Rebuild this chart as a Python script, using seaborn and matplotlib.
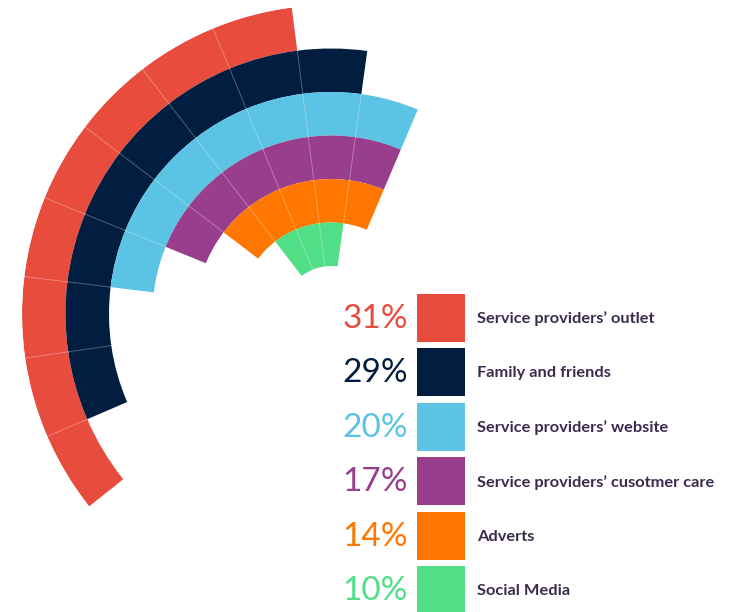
import numpy as np
import seaborn as sns
import matplotlib.pyplot as plt

# sources of information, outermost ring first
categories = ["Service providers\u2019 outlet", "Family and friends",
              "Service providers\u2019 website", "Service providers\u2019 cusotmer care",
              "Adverts", "Social Media"]
shares = [31, 29, 20, 17, 14, 10]
# each ring is built from equal blocks: how many, and at which block it starts
n_blocks = [8, 8, 7, 6, 5, 3]
first_block = [2, 1, 0, 0, 0, 1]
colors = ["#E84C3D", "#011E40", "#5BC3E3", "#983E8D", "#FF7700", "#50DE86"]

sns.set_theme(style="white")
plt.rcParams['font.family'] = ['Lato', 'DejaVu Sans']
palette = sns.color_palette(colors)

W, H = 736, 612
cx, cy = 331, 314          # ring centre in pixels
R = 309                    # outer radius in pixels
ring_w = 43.5
base_deg, step_deg = 67.0, 15.15

fig = plt.figure(figsize=(W / 100, H / 100), dpi=100)
ax = fig.add_axes([(cx - R) / W, (H - cy - R) / H, 2 * R / W, 2 * R / H], projection='polar')
ax.set_ylim(0, R)
ax.set_axis_off()

for i, (nb, fb) in enumerate(zip(n_blocks, first_block)):
    outer = R - i * ring_w
    inner = outer - ring_w
    start = base_deg + fb * step_deg
    ax.bar(np.radians(start), ring_w, width=np.radians(nb * step_deg), bottom=inner,
           align='edge', color=palette[i], linewidth=0)
    # thin separators between blocks
    for k in range(1, nb):
        th = np.radians(start + k * step_deg)
        ax.plot([th, th], [inner, outer], color='white', alpha=0.3, lw=0.7)

# legend drawn in pixel coordinates
lax = fig.add_axes([0, 0, 1, 1])
lax.set_xlim(0, W)
lax.set_ylim(H, 0)
lax.patch.set_alpha(0)
lax.set_axis_off()

rows = 318 + 54.4 * np.arange(len(categories))
lax.barh(rows, 48, left=417, height=48, color=palette, linewidth=0)
for y, pct, lab, c in zip(rows, shares, categories, palette):
    lax.text(408, y + 1, f"{pct}%", ha='right', va='center', fontsize=24,
             family=['Lato Light', 'Lato', 'DejaVu Sans'], fontweight='normal', color=c)
    lax.text(477, y + 1, lab, ha='left', va='center', fontsize=11.8,
             fontweight='bold', color='#3A2B4E')

plt.savefig('out.png', dpi=100)
